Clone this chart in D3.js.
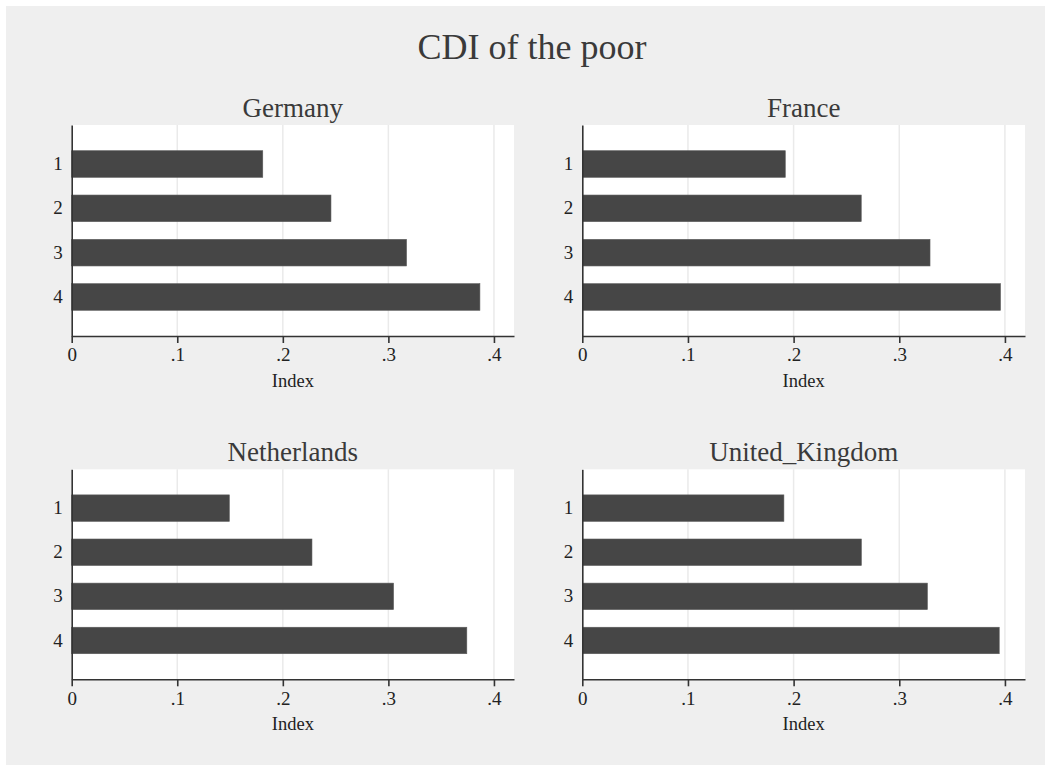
<!DOCTYPE html>
<html>
<head>
<meta charset="utf-8">
<script src="https://cdn.jsdelivr.net/npm/d3@7"></script>
<style>
  html, body { margin: 0; padding: 0; background: #ffffff; }
  svg { display: block; }
  text { font-family: "Liberation Serif", "Times New Roman", serif; }
</style>
</head>
<body>
<svg id="chart" width="1051" height="771"></svg>
<script>
const title = "CDI of the poor";
const categories = ["1", "2", "3", "4"];
const panels = ["Germany", "France", "Netherlands", "United_Kingdom"];
const germany = [0.181, 0.2456, 0.3172, 0.3867];
const france = [0.1921, 0.264, 0.3291, 0.3958];
const netherlands = [0.1493, 0.2276, 0.3049, 0.3743];
const unitedKingdom = [0.1908, 0.2641, 0.3266, 0.3946];
const xTicks = [0, 0.1, 0.2, 0.3, 0.4];
const xTickLabels = ["0", ".1", ".2", ".3", ".4"];
const xAxisTitle = "Index";
const xMax = 0.419;

const seriesByPanel = [germany, france, netherlands, unitedKingdom];

const svg = d3.select("#chart");
svg.append("rect").attr("x", 6).attr("y", 6).attr("width", 1039).attr("height", 759)
  .attr("fill", "#efefef");

svg.append("text").attr("x", 532).attr("y", 59).attr("text-anchor", "middle")
  .attr("font-size", 36).attr("fill", "#3a3a3a").text(title);

const cols = [[71.7, 514], [582.3, 1025]];
const rows = [[125, 336], [469.3, 679.3]];

panels.forEach((name, i) => {
  const [x0, x1] = cols[i % 2];
  const [y0, y1] = rows[Math.floor(i / 2)];
  const values = seriesByPanel[i];
  const g = svg.append("g");

  g.append("rect").attr("x", x0).attr("y", y0).attr("width", x1 - x0).attr("height", y1 - y0)
    .attr("fill", "#ffffff");

  const x = d3.scaleLinear().domain([0, xMax]).range([x0, x1]);
  const y = d3.scaleBand().domain(categories).range([y0, y1])
    .paddingInner(0.4).paddingOuter(0.58);

  // grid lines
  g.selectAll("line.grid").data(xTicks.filter(t => t > 0)).join("line")
    .attr("class", "grid")
    .attr("x1", d => x(d)).attr("x2", d => x(d))
    .attr("y1", y0).attr("y2", y1)
    .attr("stroke", "#eaeaea").attr("stroke-width", 1.5);

  // bars
  g.selectAll("rect.bar").data(values).join("rect")
    .attr("class", "bar")
    .attr("x", x(0))
    .attr("y", (d, k) => y(categories[k]))
    .attr("width", d => x(d) - x(0))
    .attr("height", y.bandwidth())
    .attr("fill", "#464646")
    .attr("stroke", "#5a5a5a").attr("stroke-width", 0.6);

  // x axis
  const xAxis = d3.axisBottom(x).tickValues(xTicks)
    .tickFormat((d, k) => xTickLabels[k]).tickSize(7).tickPadding(5).tickSizeOuter(0);
  const gx = g.append("g").attr("transform", `translate(0,${y1})`).call(xAxis);
  gx.select(".domain").attr("stroke", "#333").attr("stroke-width", 1.6);
  gx.selectAll(".tick line").attr("stroke", "#333").attr("stroke-width", 1.6);
  gx.selectAll(".tick text").attr("font-family", "Liberation Serif").attr("font-size", 19)
    .attr("fill", "#222");

  // y axis
  const yAxis = d3.axisLeft(y).tickSize(0).tickPadding(9);
  const gy = g.append("g").attr("transform", `translate(${x0},0)`).call(yAxis);
  gy.select(".domain").attr("stroke", "#333").attr("stroke-width", 1.6);
  gy.selectAll(".tick text").attr("font-family", "Liberation Serif").attr("font-size", 19)
    .attr("fill", "#222");

  // panel title
  g.append("text").attr("x", (x0 + x1) / 2).attr("y", y0 - 8.5)
    .attr("text-anchor", "middle").attr("font-size", 27).attr("fill", "#3a3a3a").text(name);

  // x axis title
  g.append("text").attr("x", (x0 + x1) / 2).attr("y", y1 + 51)
    .attr("text-anchor", "middle").attr("font-size", 18.5).attr("fill", "#222").text(xAxisTitle);
});
</script>
</body>
</html>
